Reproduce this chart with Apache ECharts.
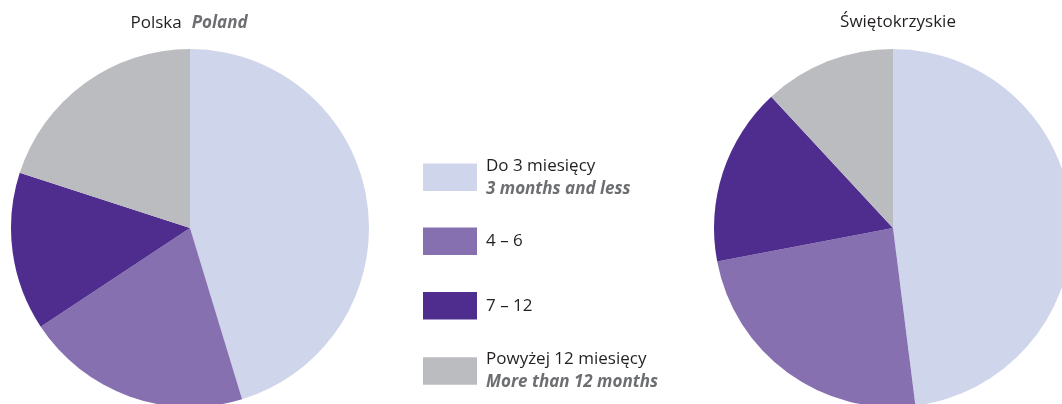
<!DOCTYPE html>
<html>
<head>
<meta charset="utf-8">
<script src="https://cdn.jsdelivr.net/npm/echarts@6/dist/echarts.min.js"></script>
<style>
html,body{margin:0;padding:0;background:#fff;}
#c{width:1062px;height:404px;}
</style>
</head>
<body>
<div id="c"></div>
<script>
const categories = ['Do 3 miesięcy', '4 – 6', '7 – 12', 'Powyżej 12 miesięcy'];
const categoriesEn = ['3 months and less', '', '', 'More than 12 months'];
const polandValues = [45.3, 20.4, 14.3, 20.0];
const regionValues = [48.0, 24.0, 16.1, 11.9];
const colors = ['#cfd5ea', '#8770b0', '#4f2d8f', '#bbbcc0'];

const FONT = 'Open Sans';
const FS = 17;
const chart = echarts.init(document.getElementById('c'), null, {renderer: 'canvas'});

function pieData(vals) {
  return categories.map((n, i) => ({name: n, value: vals[i], itemStyle: {color: colors[i]}}));
}

const legendTops = [157.3, 227.5, 292, 351];
const legends = categories.map((n, i) => ({
  data: [n],
  orient: 'vertical',
  left: 423,
  top: legendTops[i],
  itemWidth: 54,
  itemHeight: 27.5,
  itemGap: 0,
  padding: 0,
  icon: 'rect',
  selectedMode: false,
  formatter: function (name) {
    const k = categories.indexOf(name);
    return categoriesEn[k] ? '{a|' + name + '}\n{b|' + categoriesEn[k] + '}' : '{a|' + name + '}';
  },
  textStyle: {
    padding: [0, 0, 0, 4],
    rich: {
      a: {fontFamily: FONT, fontSize: FS, color: '#231f20', lineHeight: 23},
      b: {fontFamily: FONT, fontSize: FS, color: '#6d6e71', fontStyle: 'italic', fontWeight: 'bold', lineHeight: 23}
    }
  }
}));

chart.setOption({
  animation: false,
  color: colors,
  title: [
    {
      text: '{a|Polska}  {b|Poland}',
      left: 184, top: 9, textAlign: 'center',
      textStyle: {fontWeight: 'normal', rich: {
        a: {fontFamily: FONT, fontSize: FS, color: '#231f20', fontWeight: 'normal'},
        b: {fontFamily: FONT, fontSize: FS, color: '#6d6e71', fontStyle: 'italic', fontWeight: 'bold'}
      }}
    },
    {
      text: 'Świętokrzyskie',
      left: 893, top: 9, textAlign: 'center',
      textStyle: {fontFamily: FONT, fontSize: FS, color: '#231f20', fontWeight: 'normal'}
    }
  ],
  legend: legends,
  series: [
    {
      type: 'pie', name: 'Polska', center: [190, 228], radius: 179,
      startAngle: 90, clockwise: true, silent: true,
      label: {show: false}, labelLine: {show: false},
      data: pieData(polandValues)
    },
    {
      type: 'pie', name: 'Świętokrzyskie', center: [893, 228], radius: 179,
      startAngle: 90, clockwise: true, silent: true,
      label: {show: false}, labelLine: {show: false},
      data: pieData(regionValues)
    }
  ]
});
</script>
</body>
</html>
